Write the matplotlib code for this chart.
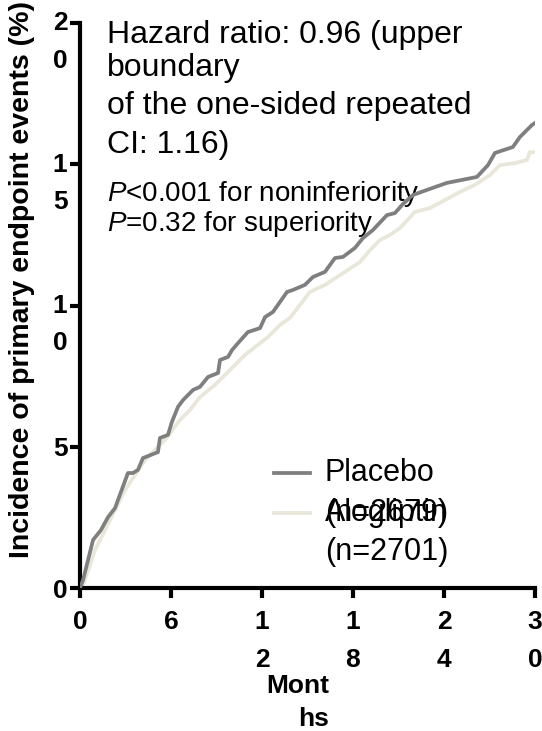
import matplotlib
matplotlib.use('Agg')
import matplotlib.pyplot as plt
from matplotlib.transforms import ScaledTranslation

plt.rcParams['font.family'] = ['Liberation Sans', 'DejaVu Sans']
plt.rcParams['mathtext.fontset'] = 'custom'
plt.rcParams['mathtext.it'] = 'Liberation Sans:italic'
plt.rcParams['mathtext.rm'] = 'Liberation Sans'

# cumulative incidence (%)
placebo_months = [0, 0.2, 0.86, 1.38, 1.85, 2.31, 2.7, 3.16, 3.49, 3.82, 4.15, 5.14, 5.27, 5.8,
                  6.06, 6.46, 6.79, 7.45, 7.91, 8.44, 9.1, 9.23, 9.76, 10.02, 10.42, 11.07,
                  11.87, 12.2, 12.72, 13.18, 13.65, 14.04, 14.83, 15.36, 16.15, 16.81, 17.34,
                  18.13, 18.66, 19.31, 20.24, 20.76, 21.29, 21.95, 22.87, 24.19, 26.17, 26.9,
                  27.36, 28.54, 29.0, 29.8, 30.0]
placebo_pct = [0, 0.28, 1.7, 2.05, 2.51, 2.83, 3.4, 4.07, 4.07, 4.18, 4.6, 4.81, 5.31, 5.42,
               5.88, 6.41, 6.65, 7.01, 7.12, 7.47, 7.61, 8.07, 8.18, 8.42, 8.67, 9.06,
               9.2, 9.59, 9.77, 10.12, 10.48, 10.55, 10.73, 11.01, 11.19, 11.68, 11.72,
               12.04, 12.39, 12.67, 13.2, 13.27, 13.59, 13.91, 14.09, 14.34, 14.55, 14.97,
               15.4, 15.61, 15.96, 16.39, 16.46]

alogliptin_months = [0, 0.26, 0.99, 1.65, 2.31, 2.97, 3.63, 4.28, 5.27, 5.6, 6.59, 7.25, 7.91,
                     8.9, 9.89, 10.88, 11.54, 12.39, 13.18, 13.84, 14.5, 15.16, 16.15, 17.47,
                     18.46, 19.12, 19.78, 20.44, 21.09, 22.08, 23.07, 24.06, 25.05, 26.04,
                     27.03, 27.69, 28.68, 29.47, 29.66, 30.0]
alogliptin_pct = [0, 0.18, 1.35, 2.05, 2.76, 3.47, 4.0, 4.53, 5.06, 5.24, 5.95, 6.3, 6.76,
                  7.19, 7.72, 8.25, 8.53, 8.88, 9.31, 9.56, 10.02, 10.48, 10.73, 11.19,
                  11.54, 11.96, 12.32, 12.5, 12.74, 13.31, 13.45, 13.73, 14.02, 14.27,
                  14.62, 14.97, 15.04, 15.15, 15.43, 15.43]

x_ticks = [0, 6, 12, 18, 24, 30]
x_tick_labels = ['0', '6', '1\n2', '1\n8', '2\n4', '3\n0']
y_ticks = [0, 5, 10, 15, 20]
y_tick_labels = ['0', '5', '1\n0', '1\n5', '2\n0']

placebo_color = '#7f7f7f'
alogliptin_color = '#e9e7d9'

W, H = 542, 731
fig = plt.figure(figsize=(W / 100, H / 100), dpi=100)
ax = fig.add_axes([80 / W, 1 - 588 / H, (535 - 80) / W, (588 - 23) / H])

ax.plot(alogliptin_months, alogliptin_pct, color=alogliptin_color, lw=2.7, zorder=2)
ax.plot(placebo_months, placebo_pct, color=placebo_color, lw=2.7, zorder=3)

ax.set_xlim(0, 30)
ax.set_ylim(0, 20)
for s in ['top', 'right']:
    ax.spines[s].set_visible(False)
for s in ['left', 'bottom']:
    ax.spines[s].set_linewidth(3)
ax.set_xticks(x_ticks, x_tick_labels, fontweight='bold', fontsize=19, linespacing=1.75)
ax.set_yticks(y_ticks, y_tick_labels, fontweight='bold', fontsize=19, linespacing=1.7)
ax.tick_params(axis='both', width=3, length=7)
ax.tick_params(axis='y', pad=2)
ax.tick_params(axis='x', pad=9)

# wrapped y labels: put the first line level with the tick
for lab in ax.get_yticklabels():
    if '\n' in lab.get_text():
        lab.set_transform(lab.get_transform() + ScaledTranslation(0, -0.1, fig.dpi_scale_trans))

fig.text(22 / W, 1 - 280 / H, 'Incidence of primary endpoint events (%)', rotation=90,
         ha='center', va='center', fontsize=20.5, fontweight='bold')
fig.text(298 / W, 1 - 674 / H, 'Mont\nhs', ha='center', va='top', multialignment='right',
         fontsize=19, fontweight='bold', linespacing=1.5)

# annotation block, sits underneath the curves
notes = [('Hazard ratio: 0.96 (upper', 43, 23),
         ('boundary', 76, 23),
         ('of the one-sided repeated', 114, 23),
         ('CI: 1.16)', 153, 23),
         ('$\\it{P}$<0.001 for noninferiority', 201, 20),
         ('$\\it{P}$=0.32 for superiority', 231, 20)]
for txt, yb, fs in notes:
    ax.text(107 / W, 1 - yb / H, txt, transform=fig.transFigure, ha='left', va='baseline',
            fontsize=fs, zorder=1, clip_on=False)

# legend drawn by hand (the two entries overlap in the original)
ax.plot([0.426, 0.505], [0.2035, 0.2035], transform=ax.transAxes, color=placebo_color, lw=2.7)
ax.plot([0.426, 0.505], [0.133, 0.133], transform=ax.transAxes, color=alogliptin_color, lw=2.7)
for txt, yy in [('Placebo', 0.2035), ('(n=2679)', 0.133), ('Alogliptin', 0.133), ('(n=2701)', 0.064)]:
    ax.text(0.538, yy, txt, transform=ax.transAxes, ha='left', va='center', fontsize=22)

fig.savefig('out.png', dpi=100)
